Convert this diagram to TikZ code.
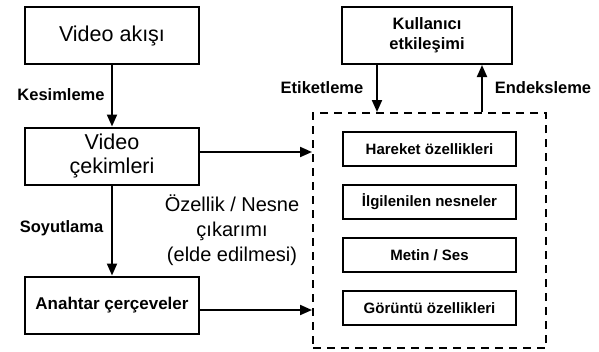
\documentclass[tikz,border=0pt]{standalone}
\usepackage{fontspec}
\setmainfont{Liberation Sans}
\usetikzlibrary{arrows.meta,calc}
\tikzset{
  kutu/.style={draw,line width=2pt,minimum width=174pt,minimum height=57pt,align=center,inner sep=1pt,font=\fontsize{21.5}{24}\selectfont},
  kucukkutu/.style={draw,line width=2pt,minimum width=173pt,minimum height=34pt,font=\bfseries\fontsize{15}{17}\selectfont},
  etiket/.style={font=\bfseries\fontsize{16.5}{19}\selectfont},
  ok/.style={line width=2pt,-{Triangle[length=12pt,width=10pt]}},
  kesik/.style={draw,line width=2pt,dash pattern=on 8pt off 6pt,minimum width=233pt,minimum height=235pt}
}
\begin{document}
\begin{tikzpicture}[x=1pt,y=-1pt]
\useasboundingbox (0,0) rectangle (599,351);
% Boxes
\node[kutu] (videoakisi) at (112,35.5) {Video akışı};
\node[kutu] (cekimler) at (112,156) {Video\\çekimleri};
\node[kutu,font=\bfseries\fontsize{17}{20}\selectfont] (anahtar) at (112,305) {Anahtar çerçeveler};
\node[kutu,minimum width=170pt,font=\bfseries\fontsize{16.5}{20}\selectfont] (kullanici) at (427,35.5) {Kullanıcı\\etkileşimi};
% Dashed frame
\node[kesik] (cikarim) at (429.5,230.5) {};
\node[kucukkutu] (hareket) at (429.5,149) {Hareket özellikleri};
\node[kucukkutu] (nesneler) at (429.5,202) {İlgilenilen nesneler};
\node[kucukkutu] (metinses) at (429.5,255) {Metin / Ses};
\node[kucukkutu] (goruntu) at (429.5,308) {Görüntü özellikleri};
% Text Node
\node[align=center,font=\fontsize{20}{25}\selectfont] (ozellik) at (232,230) {Özellik / Nesne\\çıkarımı\\(elde edilmesi)};
\node[etiket] (kesimleme) at (61,95) {Kesimleme};
\node[etiket] (soyutlama) at (61.5,228) {Soyutlama};
\node[etiket] (etiketleme) at (322,88) {Etiketleme};
\node[etiket] (endeksleme) at (543,88) {Endeksleme};
% Arrows
\draw[ok] (videoakisi) -- (cekimler);
\draw[ok] (cekimler) -- (anahtar);
\draw[ok] ([yshift=4pt]cekimler.east) -- ([yshift=4pt]cekimler.east -| cikarim.west);
\draw[ok] ([yshift=-5pt]anahtar.east) -- ([yshift=-5pt]anahtar.east -| cikarim.west);
\draw[ok] ([xshift=-50pt]kullanici.south) -- ([xshift=-50pt]kullanici.south |- cikarim.north);
\draw[ok] ([xshift=55pt]kullanici.south |- cikarim.north) -- ([xshift=55pt]kullanici.south);
\end{tikzpicture}
\end{document}
